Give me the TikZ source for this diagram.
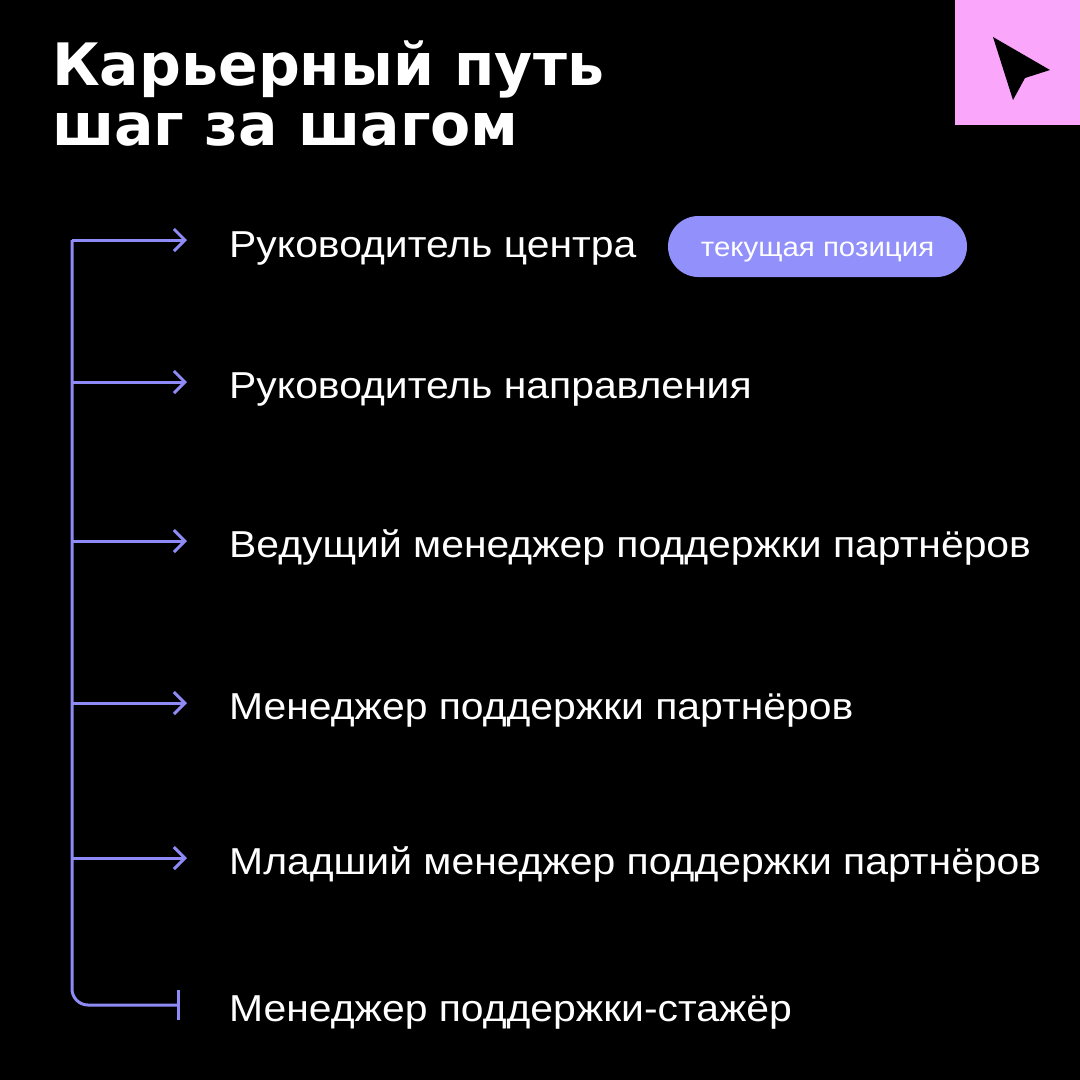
\documentclass[tikz,border=0pt]{standalone}
\usepackage{fontspec}
\setmainfont{Liberation Sans}[FakeStretch=1.09]
\newfontfamily\titlefont{DejaVu Sans}[BoldFont={DejaVu Sans Bold}]
\usetikzlibrary{arrows.meta}
\definecolor{lav}{RGB}{142,138,246}
\definecolor{pill}{RGB}{146,144,250}
\definecolor{pinkbox}{RGB}{250,166,250}
\tikzset{
  x=1pt,y=-1pt,
  steptext/.style={anchor=base west,text=white,inner sep=0pt,font=\fontsize{37.5}{40}\selectfont},
  branch/.style={draw=lav,line width=3pt,-{Straight Barb[length=11pt,width=22pt,line width=3pt]}},
  spine/.style={draw=lav,line width=3pt,rounded corners=16pt},
  titletext/.style={anchor=base west,text=white,inner sep=0pt,font=\titlefont\bfseries\fontsize{58.5}{60}\selectfont}
}
\begin{document}
\begin{tikzpicture}
\useasboundingbox (0,0) rectangle (1080,1080);
\fill[black] (0,0) rectangle (1080,1080);
% pink corner box with cursor
\fill[pinkbox] (955,0) rectangle (1080,125);
\fill[black] (993,37) -- (1050,70) -- (1025,78) -- (1013,100) -- cycle;
% title
\node[titletext] (t1) at (52,85) {Карьерный путь};
\node[titletext] (t2) at (52,145) {шаг за шагом};
% steps
\node[steptext] (s1) at (229,257) {Руководитель центра};
\node[steptext] (s2) at (229,398) {Руководитель направления};
\node[steptext] (s3) at (229,557) {Ведущий менеджер поддержки партнёров};
\node[steptext] (s4) at (229,719) {Менеджер поддержки партнёров};
\node[steptext] (s5) at (229,874) {Младший менеджер поддержки партнёров};
\node[steptext] (s6) at (229,1021) {Менеджер поддержки-стажёр};
% pill
\node[fill=pill,rounded corners=30.5pt,minimum width=299pt,minimum height=61pt,inner sep=0pt,text height=20pt,text depth=0pt,text=white,font=\fontsize{27}{30}\selectfont] (cur) at (817.5,246.5) {текущая позиция};
% spine coordinates
\coordinate (p1) at (72,240);
\coordinate (p2) at (72,382);
\coordinate (p3) at (72,541);
\coordinate (p4) at (72,703);
\coordinate (p5) at (72,858);
\coordinate (p6) at (72,1005);
\coordinate (e1) at (187,240);
\coordinate (e2) at (187,382);
\coordinate (e3) at (187,541);
\coordinate (e4) at (187,703);
\coordinate (e5) at (187,858);
\coordinate (e6) at (180,1005);
\draw[spine,-{Bar[width=30pt,line width=3pt]}] (p1) -- (p6) -- (e6);
\draw[branch] (p1) -- (e1);
\draw[branch] (p2) -- (e2);
\draw[branch] (p3) -- (e3);
\draw[branch] (p4) -- (e4);
\draw[branch] (p5) -- (e5);
\end{tikzpicture}
\end{document}
